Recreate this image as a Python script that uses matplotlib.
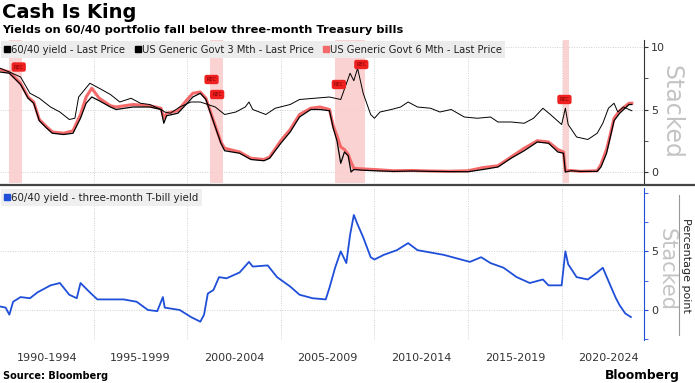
import matplotlib
matplotlib.use("Agg")
import matplotlib.pyplot as plt
from matplotlib.lines import Line2D
import numpy as np

# 60/40 yield (thin black), top panel
yld_6040_x = [1990.0, 1990.5, 1991.1, 1991.6, 1992.1, 1992.7, 1993.2, 1993.7, 1994.0, 1994.2,
              1994.8, 1995.3, 1995.9, 1996.4, 1997.0, 1997.5, 1998.0, 1998.6, 1998.8, 1999.1,
              1999.6, 2000.2, 2000.7, 2001.1, 2001.5, 2002.0, 2002.6, 2003.1, 2003.3, 2003.5,
              2004.2, 2004.7, 2005.5, 2006.0, 2006.8, 2007.6, 2008.2, 2008.7, 2008.9, 2009.1,
              2009.4, 2009.8, 2010.0, 2010.3, 2010.9, 2011.4, 2011.8, 2012.3, 2013.0, 2013.5,
              2014.1, 2014.8, 2015.5, 2016.2, 2016.6, 2017.3, 2018.0, 2018.5, 2019.0, 2019.4,
              2020.0, 2020.2, 2020.35, 2020.8, 2021.4, 2021.9, 2022.2, 2022.5, 2022.8, 2023.0,
              2023.3, 2023.6, 2023.75]
yld_6040_y = [8.3, 8.0, 7.6, 6.3, 5.9, 5.2, 4.8, 4.2, 4.3, 6.0,
              7.1, 6.7, 6.2, 5.6, 5.9, 5.5, 5.4, 5.0, 4.8, 4.7,
              5.2, 5.6, 5.6, 5.4, 5.2, 4.6, 4.8, 5.2, 5.6, 5.0,
              4.6, 5.1, 5.4, 5.8, 5.9, 6.0, 5.8, 7.9, 7.3, 8.3,
              6.3, 4.6, 4.3, 4.8, 5.0, 5.2, 5.6, 5.2, 5.1, 4.8,
              5.0, 4.4, 4.3, 4.4, 4.0, 4.0, 3.9, 4.3, 5.1, 4.6,
              3.8, 5.1, 3.8, 2.8, 2.6, 3.1, 3.9, 5.1, 5.5, 4.8,
              5.2, 5.0, 4.9]

# US generic govt 3 month (black) and 6 month (red)
bill_x = [1990.0, 1990.5, 1991.1, 1991.5, 1991.8, 1992.1, 1992.5, 1992.8, 1993.4, 1993.9,
          1994.3, 1994.6, 1994.9, 1995.3, 1995.9, 1996.2, 1997.1, 1998.0, 1998.6, 1998.75,
          1998.9, 1999.5, 2000.0, 2000.3, 2000.7, 2001.0, 2001.2, 2001.5, 2001.8, 2002.0,
          2002.8, 2003.4, 2004.1, 2004.4, 2005.0, 2005.5, 2006.0, 2006.6, 2007.1, 2007.6,
          2007.8, 2008.0, 2008.2, 2008.4, 2008.6, 2008.75, 2008.9, 2009.3, 2010.0, 2011.0,
          2012.0, 2013.0, 2014.0, 2015.0, 2015.8, 2016.6, 2017.3, 2018.0, 2018.7, 2019.3,
          2019.8, 2020.1, 2020.2, 2020.5, 2021.0, 2021.9, 2022.1, 2022.4, 2022.6, 2022.8,
          2023.1, 2023.6, 2023.75]
bill_3m = [8.0, 7.9, 7.0, 5.9, 5.5, 4.1, 3.5, 3.1, 3.0, 3.1,
           4.3, 5.5, 6.0, 5.7, 5.2, 5.0, 5.2, 5.2, 5.0, 3.9,
           4.5, 4.7, 5.5, 6.0, 6.3, 5.8, 4.9, 3.6, 2.3, 1.7,
           1.5, 1.0, 0.9, 1.1, 2.3, 3.2, 4.4, 5.0, 5.0, 4.9,
           3.5, 2.5, 0.7, 1.6, 1.3, 0.0, 0.2, 0.15, 0.1, 0.05,
           0.08, 0.05, 0.03, 0.02, 0.2, 0.4, 1.1, 1.7, 2.4, 2.3,
           1.6, 1.5, 0.0, 0.1, 0.05, 0.05, 0.4, 1.5, 2.8, 4.1,
           4.7, 5.4, 5.4]
bill_6m = [8.2, 8.0, 7.1, 6.0, 5.6, 4.2, 3.6, 3.2, 3.1, 3.3,
           4.6, 6.0, 6.7, 5.9, 5.3, 5.2, 5.4, 5.3, 5.1, 4.3,
           4.7, 4.9, 5.8, 6.3, 6.4, 5.9, 5.0, 3.7, 2.4, 1.9,
           1.6, 1.1, 1.0, 1.2, 2.5, 3.4, 4.6, 5.1, 5.2, 5.0,
           3.7, 2.9, 2.0, 1.8, 1.4, 0.8, 0.3, 0.25, 0.2, 0.1,
           0.12, 0.08, 0.06, 0.1, 0.35, 0.5, 1.2, 1.9, 2.5, 2.4,
           1.8, 1.6, 0.1, 0.12, 0.05, 0.1, 0.6, 1.8, 3.0, 4.3,
           4.9, 5.5, 5.5]

# 60/40 yield minus three-month T-bill yield, bottom panel
spread_x = [1990.0, 1990.3, 1990.5, 1990.7, 1991.1, 1991.6, 1992.0, 1992.7, 1993.2, 1993.7,
            1994.1, 1994.3, 1994.8, 1995.2, 1995.9, 1996.6, 1997.3, 1997.9, 1998.4, 1998.7,
            1998.8, 1999.6, 2000.2, 2000.7, 2000.9, 2001.1, 2001.4, 2001.7, 2002.1, 2002.8,
            2003.3, 2003.5, 2004.3, 2004.8, 2005.5, 2006.0, 2006.7, 2007.4, 2007.6, 2007.9,
            2008.2, 2008.5, 2008.7, 2008.9, 2009.1, 2009.4, 2009.8, 2010.0, 2010.5, 2011.2,
            2011.8, 2012.3, 2013.0, 2013.7, 2014.4, 2015.1, 2015.7, 2016.2, 2016.9, 2017.6,
            2018.3, 2019.0, 2019.3, 2020.0, 2020.2, 2020.35, 2020.8, 2021.4, 2021.9, 2022.2,
            2022.6, 2022.9, 2023.1, 2023.4, 2023.7]
spread_y = [0.3, 0.2, -0.4, 0.7, 1.1, 1.0, 1.5, 2.1, 2.3, 1.3,
            1.0, 2.3, 1.5, 0.9, 0.9, 0.9, 0.7, 0.0, -0.1, 1.1,
            0.2, 0.0, -0.6, -1.0, -0.4, 1.4, 1.7, 2.8, 2.7, 3.2,
            4.1, 3.7, 3.8, 2.8, 2.0, 1.3, 1.0, 0.9, 1.9, 3.6,
            5.0, 4.0, 6.4, 8.1, 7.3, 6.2, 4.5, 4.3, 4.7, 5.1,
            5.7, 5.1, 4.9, 4.7, 4.4, 4.1, 4.5, 4.0, 3.6, 2.8,
            2.3, 2.6, 2.1, 2.1, 5.0, 3.9, 2.8, 2.6, 3.2, 3.6,
            2.1, 1.0, 0.4, -0.3, -0.6]

# recessions and their REC badges
recessions = [(1990.5, 1991.2), (2001.2, 2001.9), (2007.9, 2009.5), (2020.1, 2020.4)]
rec_x = [1991.0, 2001.3, 2001.6, 2008.1, 2009.3, 2020.15]
rec_y = [8.4, 7.4, 6.2, 7.0, 8.6, 5.8]

period_labels = ["1990-1994", "1995-1999", "2000-2004", "2005-2009",
                 "2010-2014", "2015-2019", "2020-2024"]

BLUE = "#1f4fd8"
RED = "#f46a6a"
GRID = "#d0d0d0"

fig = plt.figure(figsize=(6.95, 3.83), dpi=100)
W, H = 695, 383

def ax_rect(x0, y0, x1, y1):
    return [x0 / W, 1 - y1 / H, (x1 - x0) / W, (y1 - y0) / H]

ax1 = fig.add_axes(ax_rect(0, 40, 644, 183))
ax2 = fig.add_axes(ax_rect(0, 188, 644, 340))

for ax in (ax1, ax2):
    ax.set_xlim(1990.0, 2024.4)
    for side in ("left", "top", "bottom"):
        ax.spines[side].set_visible(False)
    ax.yaxis.tick_right()
    ax.set_xticks(np.arange(1995, 2024, 5))
    ax.tick_params(axis="x", length=0, labelbottom=False)
    ax.grid(True, color=GRID, linestyle=(0, (1, 1.5)), linewidth=0.7)
    ax.set_axisbelow(True)

# top panel
for a, b in recessions:
    ax1.axvspan(a, b, color="#fbcaca", alpha=0.85, lw=0, zorder=1)
ax1.plot(bill_x, bill_6m, color=RED, lw=2.2, zorder=3)
ax1.plot(bill_x, bill_3m, color="black", lw=0.9, zorder=4)
ax1.plot(yld_6040_x, yld_6040_y, color="black", lw=0.7, zorder=4)
for x, y in zip(rec_x, rec_y):
    ax1.text(x, y, "REC", fontsize=3.5, color="#7a0000", ha="center", va="center", zorder=6,
             bbox=dict(boxstyle="round,pad=0.45", fc="#ee2020", ec="none"))
ax1.set_ylim(-0.88, 10.56)
ax1.set_yticks([0, 5, 10])
ax1.set_yticks([2.5, 7.5], minor=True)
ax1.spines["right"].set_color("#333333")
ax1.tick_params(axis="y", which="both", length=3, labelsize=8, pad=2, colors="#333333")

h1 = [Line2D([], [], marker="s", ls="none", color="black", markersize=5),
      Line2D([], [], marker="s", ls="none", color="black", markersize=5),
      Line2D([], [], marker="s", ls="none", color=RED, markersize=5)]
leg1 = ax1.legend(h1, ["60/40 yield - Last Price", "US Generic Govt 3 Mth - Last Price",
                       "US Generic Govt 6 Mth - Last Price"],
                  loc="upper left", ncol=3, fontsize=7.2, frameon=True, fancybox=False,
                  borderaxespad=0.1, handlelength=0.5, handletextpad=0.15, columnspacing=1.0,
                  borderpad=0.35, labelcolor="#222222")
leg1.get_frame().set_facecolor("#ececec")
leg1.get_frame().set_edgecolor("none")
leg1.get_frame().set_alpha(1)
leg1.set_zorder(10)

# bottom panel
ax2.plot(spread_x, spread_y, color=BLUE, lw=1.3, zorder=3)
ax2.set_ylim(-2.56, 10.4)
ax2.set_yticks([0, 5])
ax2.set_yticks([-2.5, 2.5, 7.5, 10], minor=True)
ax2.spines["right"].set_color(BLUE)
ax2.tick_params(axis="y", which="both", length=3, labelsize=8, pad=2, colors=BLUE,
                labelcolor="#333333")
h2 = [Line2D([], [], marker="s", ls="none", color=BLUE, markersize=5)]
leg2 = ax2.legend(h2, ["60/40 yield - three-month T-bill yield"], loc="upper left",
                  fontsize=7.4, frameon=True, fancybox=False, borderaxespad=0.1,
                  handlelength=0.5, handletextpad=0.15, borderpad=0.35, labelcolor="#222222")
leg2.get_frame().set_facecolor("#ececec")
leg2.get_frame().set_edgecolor("none")

# period labels under the bottom panel
for i, lab in enumerate(period_labels):
    xc = 1992.5 + 5 * i
    ax2.text(xc, -4.1, lab, ha="center", va="center", fontsize=8, color="#333333",
             clip_on=False)

# separator between panels
fig.add_artist(Line2D([0, 1], [1 - 184.5 / H, 1 - 184.5 / H], color="#444444", lw=1.6))

# side texts
fig.text(672 / W, 1 - 112 / H, "Stacked", rotation=-90, fontsize=17, color="#c4c4c4",
         ha="center", va="center")
fig.text(667 / W, 1 - 270 / H, "Stacked", rotation=-90, fontsize=15, color="#c4c4c4",
         ha="center", va="center")
fig.text(686 / W, 1 - 265 / H, "Percentage point", rotation=-90, fontsize=8,
         color="#222222", ha="center", va="center")
fig.add_artist(Line2D([679 / W, 679 / W], [1 - 195 / H, 1 - 335 / H], color="#999999", lw=0.8))

# titles
fig.text(0.003, 1 - 12 / H, "Cash Is King", fontsize=14, fontweight="bold", va="center")
fig.text(0.003, 1 - 30 / H, "Yields on 60/40 portfolio fall below three-month Treasury bills",
         fontsize=8.2, fontweight="bold", va="center")
fig.text(0.005, 1 - 376 / H, "Source: Bloomberg", fontsize=7, fontweight="bold", va="center")
fig.text(680 / W, 1 - 375 / H, "Bloomberg", fontsize=8.8, fontweight="bold", va="center",
         ha="right")

fig.savefig("out.png", dpi=100)
